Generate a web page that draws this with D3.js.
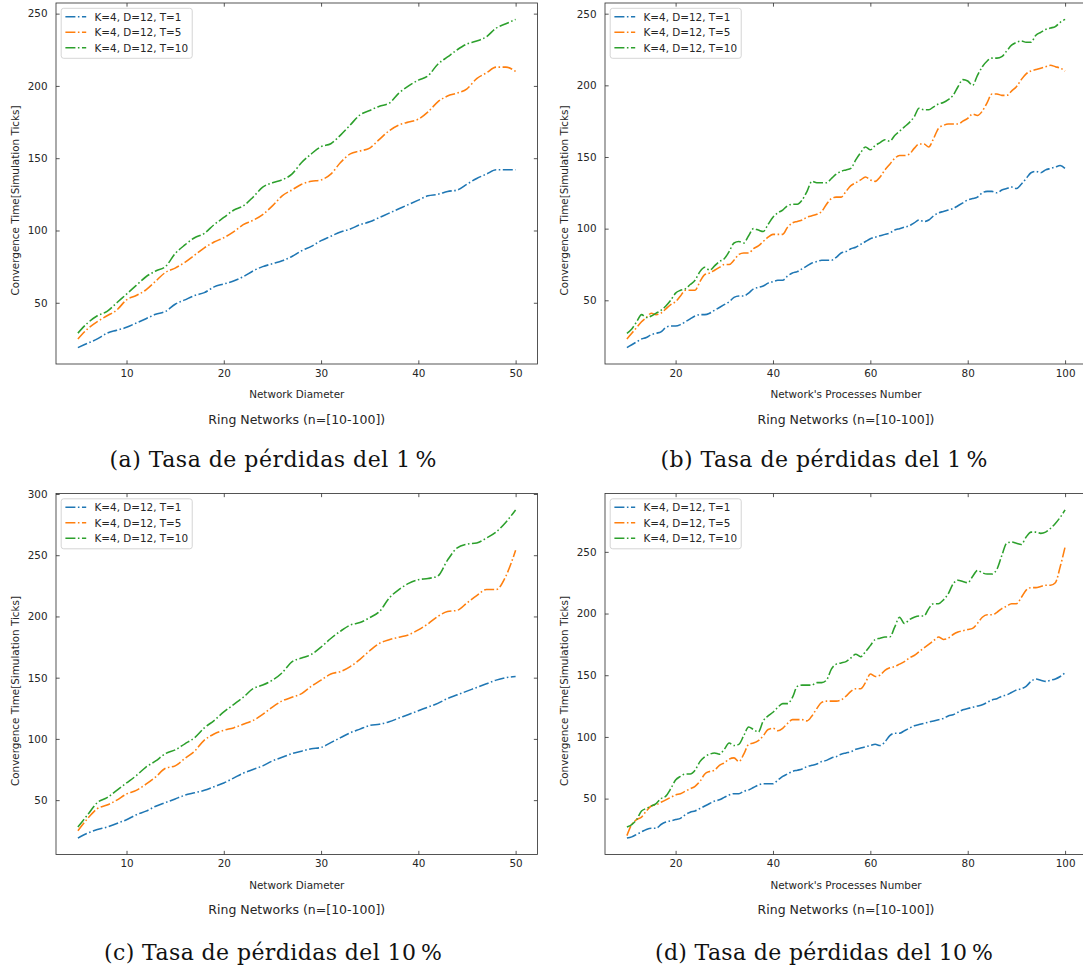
<!DOCTYPE html>
<html>
<head>
<meta charset="utf-8">
<script src="https://cdn.jsdelivr.net/npm/d3@7"></script>
<style>
  html, body { margin: 0; padding: 0; background: #ffffff; }
  svg { display: block; }
</style>
</head>
<body>
<svg id="chart" width="1083" height="970"></svg>
<script>
// ---------------- DATA ----------------
const seriesLabels = ["K=4, D=12, T=1", "K=4, D=12, T=5", "K=4, D=12, T=10"];
const seriesColors = ["#1f77b4", "#ff7f0e", "#2ca02c"];

// Network diameter 5..50 (panels a, c)
const diameters = d3.range(5, 51);
// Number of processes 10..100 (panels b, d)
const processes = d3.range(10, 101);

// (a) loss rate 1%, vs diameter
const a_T1 = [19,22,25,29,31,33,36,39,42,44, 49,52,55,57,61,63,65,68,72,75, 77,79,82,86,89,93,96,99,101,104, 106,109,112,115,118,121,124,125,127,128, 132,136,139,142,142,142];
const a_T5 = [25,32,37,41,45,52,55,59,65,71, 74,78,83,88,92,95,99,104,107,111, 117,124,128,132,134,135,139,147,153,155, 157,163,169,173,175,177,182,189,193,195, 198,205,209,213,213,210];
const a_T10 = [29,36,41,44,50,56,62,68,72,75, 84,90,95,98,104,109,114,117,123,130, 133,135,139,147,153,158,160,166,173,180, 183,186,188,195,200,204,207,215,220,225, 229,231,234,240,243,246];

// (b) loss rate 1%, vs processes
const b_T1 = [17,19,21,23,24,26,27,28,31,32, 32,33,35,37,39,40,40,41,43,45, 47,49,52,53,53,55,58,59,60,62, 63,64,64,67,69,70,72,74,76,77, 78,78,78,80,83,84,86,87,89,91, 93,94,95,96,97,99,100,101,102,104, 106,105,106,109,111,112,113,114,116,118, 120,121,122,125,126,126,125,127,128,129, 128,131,135,139,140,139,141,142,143,144, 142];
const b_T5 = [23,27,31,35,38,41,40,41,44,47, 49,53,57,57,57,63,68,69,71,73, 75,75,78,82,83,83,86,88,91,94, 96,96,96,101,104,105,106,108,109,110, 112,117,121,122,122,126,130,132,134,136, 134,133,136,141,145,149,151,151,152,156, 159,159,157,163,170,172,173,173,173,175, 177,180,179,182,188,194,194,193,193,196, 199,204,208,210,211,212,213,214,213,212, 210];
const b_T10 = [27,30,35,40,38,39,41,43,46,50, 55,57,58,61,64,70,73,71,74,77, 79,84,90,91,90,95,100,99,98,103, 108,111,113,116,117,117,120,126,133,132, 132,132,135,138,140,141,142,148,153,157, 155,158,160,162,161,165,168,171,174,178, 184,183,183,185,187,188,190,193,199,204, 203,200,207,213,217,219,219,220,224,228, 230,231,230,230,235,237,239,240,241,244, 246];

// (c) loss rate 10%, vs diameter
const c_T1 = [19,23,26,28,31,34,38,41,45,48, 51,54,56,58,61,64,68,72,75,78, 82,85,88,90,92,93,97,101,105,108, 111,112,114,117,120,123,126,129,133,136, 139,142,145,148,150,151];
const c_T5 = [25,35,43,46,50,55,58,63,69,76, 78,84,90,99,104,107,109,112,115,120, 126,131,134,137,143,148,153,155,159,165, 172,178,181,183,185,189,194,200,204,205, 211,217,222,222,233,254];
const c_T10 = [28,38,48,52,58,64,70,77,82,88, 91,96,101,109,115,122,128,134,141,144, 148,154,163,166,169,175,182,188,193,195, 199,204,215,222,227,230,231,233,246,256, 259,260,264,269,277,287];

// (d) loss rate 10%, vs processes
const d_T1 = [18,19,21,23,25,26,26,29,31,32, 33,34,37,39,40,42,44,46,48,49, 51,53,54,54,56,57,59,61,62,62, 62,65,68,70,72,73,74,76,77,78, 80,81,83,84,86,87,88,90,91,92, 93,94,93,96,101,103,103,105,107,109, 110,111,112,113,114,115,117,118,120,122, 123,124,125,126,128,130,131,133,134,136, 138,139,141,145,147,146,145,146,147,149, 152];
const d_T5 = [20,29,33,35,40,44,45,47,49,51, 53,54,56,58,60,64,70,72,73,77, 79,82,83,80,86,94,95,97,101,106, 107,105,107,111,114,114,114,113,117,123, 128,129,129,129,130,133,137,139,139,144, 151,149,150,154,156,157,159,161,164,166, 169,172,175,178,181,179,180,183,185,186, 187,188,192,197,199,199,201,204,206,208, 208,213,219,221,221,222,223,223,225,238, 254];
const d_T10 = [27,29,33,40,42,44,46,50,52,58, 65,68,70,70,73,80,84,86,87,86, 90,95,93,94,101,108,106,104,113,117, 120,124,127,127,132,141,142,142,142,144, 144,146,155,159,160,161,164,167,165,169, 174,179,180,181,181,189,197,192,195,197, 198,198,204,208,208,211,216,224,227,226, 225,230,235,233,232,232,236,247,257,258, 257,256,262,266,266,265,266,269,273,278, 284];

// Tick labels
const xTicksDiameter = [10, 20, 30, 40, 50];
const xTicksProcesses = [20, 40, 60, 80, 100];
const yTicks250 = [50, 100, 150, 200, 250];
const yTicks300 = [50, 100, 150, 200, 250, 300];

// Texts
const yLabel = "Convergence Time[Simulation Ticks]";
const xLabelDiameter = "Network Diameter";
const xLabelProcesses = "Network's Processes Number";
const subTitle = "Ring Networks (n=[10-100])";
const captions = ["(a) Tasa de pérdidas del 1\u2009%", "(b) Tasa de pérdidas del 1\u2009%",
                  "(c) Tasa de pérdidas del 10\u2009%", "(d) Tasa de pérdidas del 10\u2009%"];

// ---------------- LAYOUT ----------------
const panels = [
  { x: diameters, ys: [a_T1, a_T5, a_T10], xTicks: xTicksDiameter, yTicks: yTicks250, xLabel: xLabelDiameter, caption: captions[0], L: 56, R: 537.5, T: 3, B: 364, capY: 467, capW: 327, capX: 273 },
  { x: processes, ys: [b_T1, b_T5, b_T10], xTicks: xTicksProcesses, yTicks: yTicks250, xLabel: xLabelProcesses, caption: captions[1], L: 605, R: 1087, T: 3, B: 364, capY: 467, capW: 327, capX: 824 },
  { x: diameters, ys: [c_T1, c_T5, c_T10], xTicks: xTicksDiameter, yTicks: yTicks300, xLabel: xLabelDiameter, caption: captions[2], L: 56, R: 537.5, T: 493.5, B: 854.5, capY: 960, capW: 338, capX: 273 },
  { x: processes, ys: [d_T1, d_T5, d_T10], xTicks: xTicksProcesses, yTicks: yTicks250, xLabel: xLabelProcesses, caption: captions[3], L: 605, R: 1087, T: 493.5, B: 854.5, capY: 960, capW: 338, capX: 824 }
];

const FONT = "DejaVu Sans, Verdana, sans-serif";
const TXT = "#262626";
const SPINE = "#333333";
const LW = 1.56;
const DASH = "10,2.5,1.56,2.5";
const TICKLEN = 3.65;

const svg = d3.select("#chart");

function padded(ext) {
  const m = (ext[1] - ext[0]) * 0.05;
  return [ext[0] - m, ext[1] + m];
}

panels.forEach((p, idx) => {
  const g = svg.append("g");
  const x = d3.scaleLinear().domain(padded(d3.extent(p.x))).range([p.L, p.R]);
  const y = d3.scaleLinear().domain(padded(d3.extent(p.ys.flat()))).range([p.B, p.T]);

  // clip
  const clipId = "clip" + idx;
  svg.append("clipPath").attr("id", clipId)
    .append("rect").attr("x", p.L).attr("y", p.T).attr("width", p.R - p.L).attr("height", p.B - p.T);

  // lines
  const line = d3.line()
    .x((d, i) => x(p.x[i]))
    .y(d => y(d))
    .curve(d3.curveMonotoneX);
  const lg = g.append("g").attr("clip-path", `url(#${clipId})`);
  p.ys.forEach((s, k) => {
    lg.append("path")
      .attr("d", line(s))
      .attr("fill", "none")
      .attr("stroke", seriesColors[k])
      .attr("stroke-width", LW)
      .attr("stroke-dasharray", DASH)
      .attr("stroke-linejoin", "round");
  });

  // axes
  const styleAxis = sel => {
    sel.select(".domain").remove();
    sel.selectAll(".tick line").attr("stroke", SPINE).attr("stroke-width", 0.83);
    sel.selectAll(".tick text").attr("fill", TXT).style("font-family", FONT).style("font-size", "10.4px");
  };
  g.append("g").attr("transform", `translate(0,${p.B})`)
    .call(d3.axisBottom(x).tickValues(p.xTicks).tickSize(-TICKLEN).tickSizeOuter(0).tickPadding(5.6).tickFormat(d3.format("d")))
    .call(styleAxis);
  g.append("g").attr("transform", `translate(0,${p.T})`)
    .call(d3.axisTop(x).tickValues(p.xTicks).tickSize(-TICKLEN).tickSizeOuter(0).tickFormat(""))
    .call(styleAxis);
  g.append("g").attr("transform", `translate(${p.L},0)`)
    .call(d3.axisLeft(y).tickValues(p.yTicks).tickSize(-TICKLEN).tickSizeOuter(0).tickPadding(8.5).tickFormat(d3.format("d")))
    .call(styleAxis);
  g.append("g").attr("transform", `translate(${p.R},0)`)
    .call(d3.axisRight(y).tickValues(p.yTicks).tickSize(-TICKLEN).tickSizeOuter(0).tickFormat(""))
    .call(styleAxis);

  // spines
  g.append("rect").attr("x", p.L).attr("y", p.T).attr("width", p.R - p.L).attr("height", p.B - p.T)
    .attr("fill", "none").attr("stroke", SPINE).attr("stroke-width", 0.83);

  // y label
  const ly = (p.T + p.B) / 2 + 17;
  const lx = p.L - 41.2;
  g.append("text")
    .attr("transform", `translate(${lx},${ly}) rotate(-90)`)
    .attr("text-anchor", "middle").attr("dominant-baseline", "central")
    .style("font-family", FONT).style("font-size", "10.4px").attr("fill", TXT)
    .text(yLabel);

  // x label
  const cx = (p.L + p.R) / 2;
  g.append("text").attr("x", cx).attr("y", p.B + 34)
    .attr("text-anchor", "middle")
    .style("font-family", FONT).style("font-size", "10.4px").attr("fill", TXT)
    .text(p.xLabel);

  // sub-title under the axis
  g.append("text").attr("x", cx).attr("y", p.B + 59.5)
    .attr("text-anchor", "middle")
    .style("font-family", FONT).style("font-size", "12.5px").attr("fill", TXT)
    .text(subTitle);

  // caption
  g.append("text").attr("x", p.capX).attr("y", p.capY)
    .attr("text-anchor", "middle")
    .attr("textLength", p.capW).attr("lengthAdjust", "spacing")
    .style("font-family", "DejaVu Serif, Liberation Serif, serif").style("font-size", "22px").attr("fill", "#111")
    .text(p.caption);

  // legend
  const leg = g.append("g");
  const boxX = p.L + 5.2, boxY = p.T + 5.3;
  const hx0 = boxX + 4.2, hx1 = hx0 + 20.8, tx = hx1 + 8.3;
  const box = leg.append("rect");
  let maxW = 0;
  seriesLabels.forEach((lab, k) => {
    const ry = p.T + 13.7 + k * 15.5;
    leg.append("line").attr("x1", hx0).attr("x2", hx1).attr("y1", ry).attr("y2", ry)
      .attr("stroke", seriesColors[k]).attr("stroke-width", LW).attr("stroke-dasharray", DASH);
    const t = leg.append("text").attr("x", tx).attr("y", ry)
      .attr("dominant-baseline", "central")
      .style("font-family", FONT).style("font-size", "10.4px").attr("fill", TXT)
      .text(lab);
    maxW = Math.max(maxW, t.node().getComputedTextLength());
  });
  box.attr("x", boxX).attr("y", boxY).attr("width", tx + maxW + 4.2 - boxX).attr("height", 50)
    .attr("rx", 2.5).attr("fill", "#ffffff").attr("fill-opacity", 0.8)
    .attr("stroke", "#cccccc").attr("stroke-width", 0.83);
});
</script>
</body>
</html>
